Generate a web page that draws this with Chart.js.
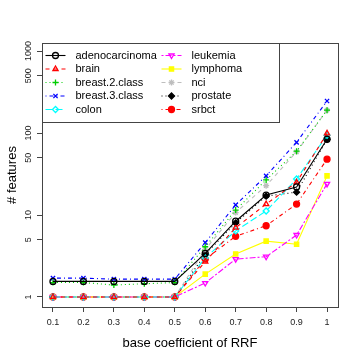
<!DOCTYPE html>
<html>
<head>
<meta charset="utf-8">
<script src="https://cdn.jsdelivr.net/npm/chart.js@4/dist/chart.umd.min.js"></script>
<style>
  html, body { margin: 0; padding: 0; background: #fff; }
  #wrap { width: 360px; height: 360px; }
</style>
</head>
<body>
<div id="wrap"><canvas id="chart" width="360" height="360"></canvas></div>
<script>
// base coefficient values (x axis)
const coefs = [0.1, 0.2, 0.3, 0.4, 0.5, 0.6, 0.7, 0.8, 0.9, 1];
const yTicks = [1, 5, 10, 50, 100, 500, 1000];

const names = ["adenocarcinoma", "brain", "breast.2.class", "breast.3.class", "colon",
  "leukemia", "lymphoma", "nci", "prostate", "srbct"];

// # features per dataset
const adenocarcinoma = [1.55, 1.55, 1.55, 1.55, 1.55, 3.4, 8.4, 17.5, 22, 84];
const brain = [1, 1, 1, 1, 1, 2.7, 7.0, 13.6, 25, 99];
const breast2 = [1.5, 1.5, 1.4, 1.45, 1.5, 4.1, 11.5, 26.8, 60, 190];
const breast3 = [1.7, 1.7, 1.65, 1.65, 1.65, 4.6, 13.3, 30, 77, 246];
const colon = [1, 1, 1, 1, 1, 3.0, 6.4, 11.2, 27.5, 94];
const leukemia = [1, 1, 1, 1, 1, 1.48, 2.9, 3.1, 5.7, 24];
const lymphoma = [1, 1, 1, 1, 1, 1.9, 3.35, 4.8, 4.4, 30];
const nci = [1, 1, 1, 1, 1, 3.8, 10.7, 22.8, 59, 190];
const prostate = [1, 1, 1, 1, 1, 3.3, 8.0, 17, 19, 84];
const srbct = [1, 1, 1, 1, 1, 2.9, 5.5, 7.4, 13.6, 48];

const series = [adenocarcinoma, brain, breast2, breast3, colon, leukemia, lymphoma, nci, prostate, srbct];

// R style palette / lty / pch cycling
const colors = ["#000000", "#FF0000", "#00CD00", "#0000FF", "#00FFFF",
  "#FF00FF", "#FFFF00", "#BEBEBE", "#000000", "#FF0000"];
const dashes = [[], [4, 4], [1, 3], [1, 3, 4, 3], [7, 3], [2, 2, 6, 2], [], [4, 4], [1, 3], [1, 3, 4, 3]];
const markers = [
  { style: "circle", fill: false, rot: 0 },
  { style: "triangle", fill: false, rot: 0 },
  { style: "cross", fill: false, rot: 0 },
  { style: "crossRot", fill: false, rot: 0 },
  { style: "rectRot", fill: false, rot: 0 },
  { style: "triangle", fill: false, rot: 180 },
  { style: "rect", fill: true, rot: 0 },
  { style: "star", fill: false, rot: 0 },
  { style: "rectRot", fill: true, rot: 0 },
  { style: "circle", fill: true, rot: 0 }
];

const datasets = series.map((vals, i) => ({
  label: names[i],
  data: vals.map((v, j) => ({ x: coefs[j], y: v })),
  borderColor: colors[i],
  backgroundColor: colors[i],
  borderWidth: 1.1,
  borderDash: dashes[i],
  pointStyle: markers[i].style,
  pointRotation: markers[i].rot,
  pointRadius: 3,
  pointBorderWidth: 1.3,
  pointBorderColor: colors[i],
  pointBackgroundColor: markers[i].fill ? colors[i] : "rgba(0,0,0,0)",
  tension: 0
}));

// box around the plot + legend in the top-left corner
const boxPlugin = {
  id: "box",
  afterDraw(chart) {
    const { ctx, chartArea: a } = chart;
    ctx.save();
    ctx.strokeStyle = "#444";
    ctx.lineWidth = 1;
    ctx.strokeRect(Math.round(a.left) + 0.5, Math.round(a.top) + 0.5,
      Math.round(a.right - a.left), Math.round(a.bottom - a.top));

    // legend
    const lx = Math.round(a.left) + 0.5, ly = Math.round(a.top) + 0.5;
    const lw = 237, lh = 79;
    ctx.fillStyle = "#fff";
    ctx.fillRect(lx, ly, lw, lh);
    ctx.strokeRect(lx, ly, lw, lh);
    ctx.font = "11px 'Liberation Sans', Arial, sans-serif";
    ctx.textBaseline = "middle";
    ctx.textAlign = "left";
    chart.data.datasets.forEach((ds, i) => {
      const col = Math.floor(i / 5), row = i % 5;
      const x0 = lx + 3 + col * 116;
      const y = ly + 12 + row * 13.5;
      ctx.strokeStyle = ds.borderColor;
      ctx.lineWidth = 1.1;
      ctx.setLineDash(ds.borderDash);
      ctx.beginPath();
      ctx.moveTo(x0, y);
      ctx.lineTo(x0 + 20, y);
      ctx.stroke();
      ctx.setLineDash([]);
      ctx.fillStyle = ds.pointBackgroundColor;
      ctx.lineWidth = 1.3;
      Chart.helpers.drawPoint(ctx, {
        pointStyle: ds.pointStyle, rotation: ds.pointRotation,
        radius: 3, borderWidth: 1.3
      }, x0 + 10, y);
      ctx.fillStyle = "#000";
      ctx.fillText(ds.label, x0 + 30, y);
    });
    ctx.restore();
  }
};

new Chart(document.getElementById("chart"), {
  type: "line",
  data: { datasets },
  plugins: [boxPlugin],
  options: {
    responsive: false,
    animation: false,
    layout: { padding: { top: 43, right: 22, left: 0, bottom: 0 } },
    plugins: { legend: { display: false }, tooltip: { enabled: false } },
    scales: {
      x: {
        type: "linear",
        min: 0.064,
        max: 1.036,
        afterBuildTicks: (s) => { s.ticks = coefs.map(v => ({ value: v })); },
        afterFit: (s) => { s.height = 53; },
        grid: { drawOnChartArea: false, tickLength: 5, color: "#444" },
        border: { display: false },
        ticks: {
          padding: 5,
          color: "#222",
          font: { size: 9, family: "'Liberation Sans', Arial, sans-serif" },
          callback: (v) => String(v)
        },
        title: {
          display: true,
          text: "base coefficient of RRF",
          color: "#000",
          font: { size: 13, family: "'Liberation Sans', Arial, sans-serif" },
          padding: { top: 0, bottom: 8.7 }
        }
      },
      y: {
        type: "logarithmic",
        min: 0.755,
        max: 1253,
        afterBuildTicks: (s) => { s.ticks = yTicks.map(v => ({ value: v })); },
        afterFit: (s) => { s.width = 42; },
        grid: { drawOnChartArea: false, tickLength: 5, color: "#444" },
        border: { display: false },
        ticks: {
          minRotation: 90,
          maxRotation: 90,
          crossAlign: "center",
          padding: -2,
          color: "#222",
          font: { size: 9, family: "'Liberation Sans', Arial, sans-serif" },
          callback: (v) => String(v)
        },
        title: {
          display: true,
          text: "# features",
          color: "#000",
          font: { size: 13, family: "'Liberation Sans', Arial, sans-serif" },
          padding: { top: 5, bottom: 0 }
        }
      }
    }
  }
});
</script>
</body>
</html>
